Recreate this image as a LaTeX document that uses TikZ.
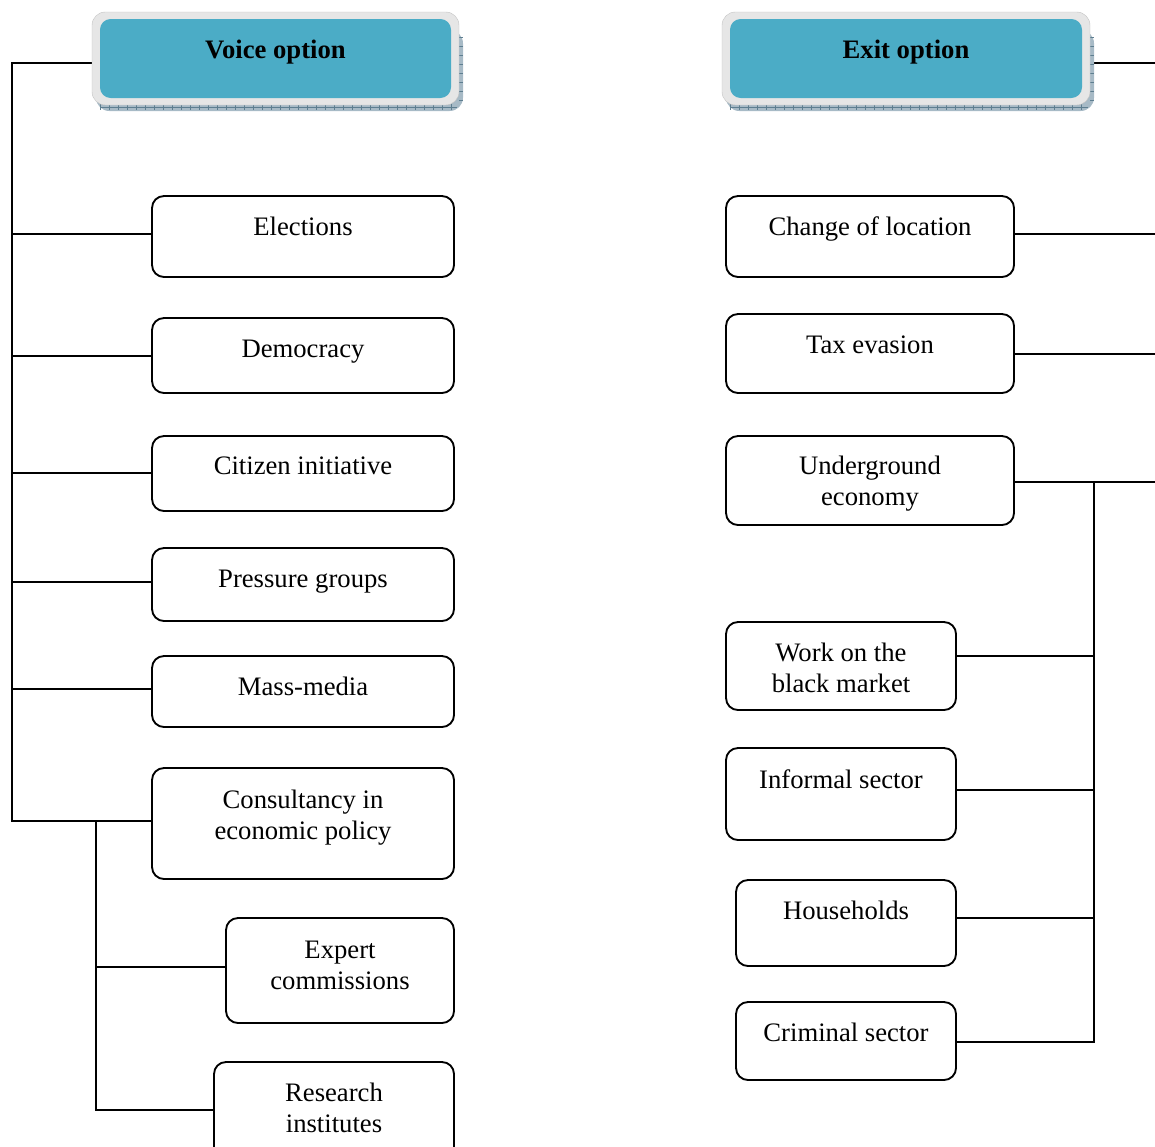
\documentclass[tikz,border=0pt]{standalone}
\usepackage{fontspec}
\setmainfont{Liberation Serif}
\usetikzlibrary{calc}
\definecolor{hdrfill}{HTML}{4BACC6}
\definecolor{hdrrim}{HTML}{E6E6E6}
\definecolor{shadefill}{HTML}{A7BAC6}
\definecolor{shadetick}{HTML}{5E7E90}
\tikzset{
  conn/.style={line width=1.5pt, line cap=rect},
  obox/.style={draw, line width=1.4pt, rounded corners=9pt, fill=white, inner sep=0pt},
  otext/.style={font=\fontsize{20pt}{23.3pt}\selectfont, align=center, inner sep=0pt},
  hrim/.style={fill=hdrrim, draw=hdrrim!85!black, line width=0.3pt, rounded corners=10pt, inner sep=0pt},
  hcore/.style={fill=hdrfill, rounded corners=8pt, inner sep=0pt},
  htext/.style={font=\fontsize{20pt}{24pt}\selectfont\bfseries, inner sep=0pt},
}
% \optbox{name}{x1}{y1}{x2}{y2}{text y}{text}
\newcommand\optbox[7]{%
  \node[obox, minimum width={(#4-#2)*0.75pt}, minimum height={(#5-#3)*0.75pt}]
    (#1) at ({(#2+#4)/2},{(#3+#5)/2}) {};
  \node[otext] (#1t) at ({(#2+#4)/2},#6) {#7};}
% \headbox{name}{x1}{x2}{text}
\newcommand\headbox[4]{%
  \fill[shadefill, rounded corners=10pt] ({#2+4},30) rectangle ({#3+4},111);
  \foreach \tx in {0,9,...,360} {
    \pgfmathsetmacro\tp{#2+8+\tx}
    \ifdim\tp pt<#3 pt \draw[shadetick, line width=0.5pt] (\tp,104) -- (\tp,110);\fi}
  \foreach \ty in {37,46,...,100} \draw[shadetick, line width=0.5pt] ({#3},\ty) -- ({#3+4},\ty);
  \draw[shadetick, line width=0.5pt] ({#2+8},107.5) -- ({#3-2},107.5);
  \node[hrim, minimum width={(#3-#2)*0.75pt}, minimum height={93*0.75pt}]
    (#1) at ({(#2+#3)/2},58.5) {};
  \node[hcore, minimum width={(#3-#2-16)*0.75pt}, minimum height={79*0.75pt}]
    (#1c) at ({(#2+#3)/2},58.5) {};
  \node[htext] (#1t) at ({(#2+#3)/2},52) {#4};}

\begin{document}
\begin{tikzpicture}[x=0.75pt, y=-0.75pt]
  \useasboundingbox (0,0) rectangle (1155,1146);
  \clip (0,0) rectangle (1155,1146);

  % trunk and side anchors
  \coordinate (lt) at (12,0);
  \coordinate (ls) at (96,0);
  \coordinate (rt) at (1155,0);
  \coordinate (rs) at (1094,0);
  \coordinate (vhl) at (96,63);
  \coordinate (ehr) at (1094,63);

  % voice side
  \optbox{elec}{152}{196}{454}{277}{226}{Elections}
  \optbox{demo}{152}{318}{454}{393}{352}{Democracy}
  \optbox{citi}{152}{436}{454}{511}{466}{Citizen initiative}
  \optbox{pres}{152}{548}{454}{621}{582}{Pressure groups}
  \optbox{mass}{152}{656}{454}{727}{686}{Mass-media}
  \optbox{cons}{152}{768}{454}{879}{818}{Consultancy in\\economic policy}
  \optbox{expt}{226}{918}{454}{1023}{965.5}{Expert\\commissions}
  \optbox{resi}{214}{1062}{454}{1160}{1107.5}{Research\\institutes}

  % exit side
  \optbox{chg}{726}{196}{1014}{277}{229}{Change of location}
  \optbox{tax}{726}{314}{1014}{393}{345}{Tax evasion}
  \optbox{und}{726}{436}{1014}{525}{483.5}{Underground\\economy}
  \optbox{work}{726}{622}{956}{710}{667.5}{Work on the\\black market}
  \optbox{info}{726}{748}{956}{840}{779}{Informal sector}
  \optbox{hous}{736}{880}{956}{966}{910}{Households}
  \optbox{crim}{736}{1002}{956}{1080}{1032}{Criminal sector}

  % voice connectors
  \draw[conn] (vhl) -- (vhl -| lt) -- ($(cons.west -| lt)+(0,-3)$) -- ($(cons.west)+(0,-3)$);
  \foreach \n/\d in {elec/-3, demo/0, citi/-1, pres/-3, mass/-3}
    \draw[conn] ($(\n.west -| lt)+(0,\d)$) -- ($(\n.west)+(0,\d)$);
  \draw[conn] ($(cons.west -| ls)+(0,-3)$) -- ($(resi.west -| ls)+(0,-1)$) -- ($(resi.west)+(0,-1)$);
  \draw[conn] ($(expt.west -| ls)+(0,-4)$) -- ($(expt.west)+(0,-4)$);

  % exit connectors
  \draw[conn] (ehr) -- (ehr -| rt);
  \foreach \n/\d in {chg/-3, tax/0, und/1.5}
    \draw[conn] ($(\n.east)+(0,\d)$) -- ($(\n.east -| rt)+(0,\d)$);
  \draw[conn] ($(und.east -| rs)+(0,1.5)$) -- ($(crim.east -| rs)+(0,1)$) -- ($(crim.east)+(0,1)$);
  \foreach \n/\d in {work/-10, info/-4, hous/-5}
    \draw[conn] ($(\n.east)+(0,\d)$) -- ($(\n.east -| rs)+(0,\d)$);

  % option headers
  \headbox{vh}{92}{459}{Voice option}
  \headbox{eh}{722}{1090}{Exit option}
\end{tikzpicture}
\end{document}
